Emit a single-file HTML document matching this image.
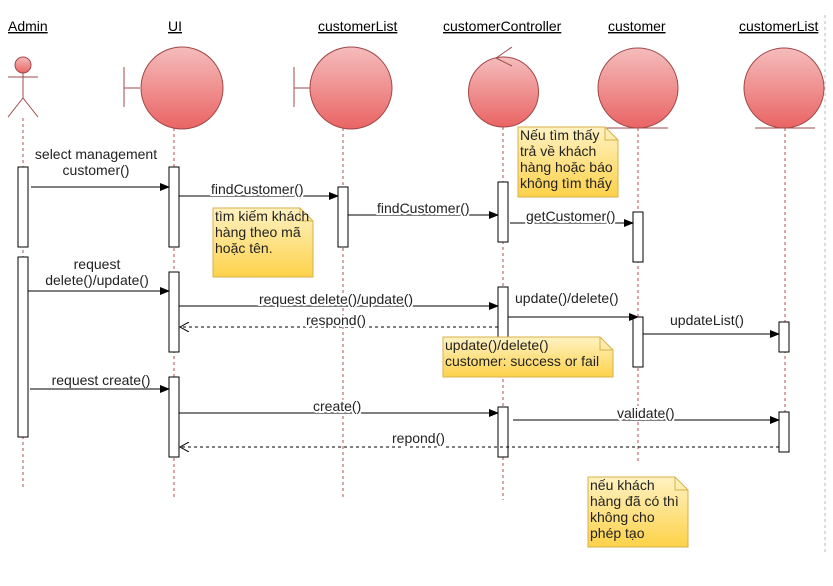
<!DOCTYPE html>
<html><head><meta charset="utf-8"><style>
html,body{margin:0;padding:0;background:#fff;}
svg{display:block;font-family:"Liberation Sans",Arial,sans-serif;font-size:14px;}
</style></head><body>
<svg width="833" height="586" viewBox="0 0 833 586" xmlns="http://www.w3.org/2000/svg">
<defs>
<linearGradient id="rg" x1="0" y1="0" x2="0" y2="1"><stop offset="0" stop-color="#f5bcbc"/><stop offset="1" stop-color="#ea6464"/></linearGradient>
<linearGradient id="yg" x1="0" y1="0" x2="0" y2="1"><stop offset="0" stop-color="#fff2c2"/><stop offset="1" stop-color="#fdd24a"/></linearGradient>
<marker id="a" markerWidth="10" markerHeight="8" refX="9" refY="4" orient="auto" markerUnits="userSpaceOnUse"><path d="M0,0 L10,4 L0,8 z" fill="#000"/></marker>
<marker id="o" markerWidth="10" markerHeight="10" refX="9" refY="5" orient="auto" markerUnits="userSpaceOnUse"><path d="M0,0 L9,5 L0,10" fill="none" stroke="#000"/></marker>
</defs>
<g fill="#000" text-decoration="underline">
<text x="8" y="31">Admin</text>
<text x="168" y="31">UI</text>
<text x="318" y="31">customerList</text>
<text x="443" y="31">customerController</text>
<text x="608" y="31">customer</text>
<text x="739" y="31">customerList</text>
</g>
<line x1="825" y1="15" x2="825" y2="555" stroke="#bbb" stroke-dasharray="3,3"/>
<g stroke="#b05050" stroke-dasharray="3,3">
<line x1="23" y1="118" x2="23" y2="487"/>
<line x1="174" y1="128" x2="174" y2="497"/>
<line x1="343" y1="128" x2="343" y2="497"/>
<line x1="503" y1="127" x2="503" y2="500"/>
<line x1="638" y1="128" x2="638" y2="462"/>
<line x1="785" y1="128" x2="785" y2="452"/>
</g>
<g stroke="#a04848" fill="url(#rg)">
<circle cx="23" cy="65" r="8"/>
<line x1="8" y1="77" x2="38" y2="77"/><line x1="23" y1="73" x2="23" y2="98"/>
<polyline points="8,117 23,98 38,117" fill="none"/>
<line x1="124" y1="67" x2="124" y2="107"/><line x1="124" y1="88" x2="140" y2="88"/>
<circle cx="182" cy="88" r="41"/>
<line x1="294" y1="67" x2="294" y2="107"/><line x1="294" y1="88" x2="310" y2="88"/>
<circle cx="351" cy="88" r="41"/>
<circle cx="503.5" cy="92" r="35"/>
<polyline points="512,47 496,58 512,66" fill="none"/>
<circle cx="638" cy="88" r="40"/>
<line x1="598" y1="128" x2="668" y2="128"/>
<circle cx="784" cy="88" r="40"/>
<line x1="755" y1="128" x2="815" y2="128"/>
</g>
<g fill="#fff" stroke="#000">
<rect x="18" y="167" width="10" height="80"/>
<rect x="18" y="257" width="10" height="180"/>
<rect x="169" y="167" width="10" height="80"/>
<rect x="169" y="272" width="10" height="80"/>
<rect x="169" y="377" width="10" height="80"/>
<rect x="338" y="187" width="10" height="60"/>
<rect x="498" y="182" width="10" height="60"/>
<rect x="498" y="287" width="10" height="70"/>
<rect x="498" y="407" width="10" height="50"/>
<rect x="633" y="212" width="10" height="50"/>
<rect x="633" y="317" width="10" height="50"/>
<rect x="779" y="322" width="10" height="30"/>
<rect x="779" y="412" width="10" height="40"/>
</g>
<g stroke="#000" fill="none">
<line x1="31" y1="187" x2="169" y2="187" marker-end="url(#a)"/>
<line x1="179" y1="196" x2="338" y2="196" marker-end="url(#a)"/>
<line x1="348" y1="215" x2="498" y2="215" marker-end="url(#a)"/>
<line x1="510" y1="223" x2="633" y2="223" marker-end="url(#a)"/>
<line x1="28" y1="291" x2="169" y2="291" marker-end="url(#a)"/>
<line x1="179" y1="306" x2="498" y2="306" marker-end="url(#a)"/>
<line x1="498" y1="327" x2="180" y2="327" stroke-dasharray="3,3" marker-end="url(#o)"/>
<line x1="508" y1="317" x2="638" y2="317" marker-end="url(#a)"/>
<line x1="643" y1="334" x2="779" y2="334" marker-end="url(#a)"/>
<line x1="30" y1="389" x2="169" y2="389" marker-end="url(#a)"/>
<line x1="179" y1="413" x2="498" y2="413" marker-end="url(#a)"/>
<line x1="513" y1="420" x2="779" y2="420" marker-end="url(#a)"/>
<line x1="779" y1="447" x2="180" y2="447" stroke-dasharray="3,3" marker-end="url(#o)"/>
</g>
<g fill="#222" text-anchor="middle">
<text x="96" y="159">select management</text>
<text x="96" y="175">customer()</text>
<text x="97" y="269">request</text>
<text x="97" y="285">delete()/update()</text>
<text x="101" y="385">request create()</text>
</g>
<g fill="#222" stroke="#fff" stroke-width="4" paint-order="stroke">
<text x="211" y="194">findCustomer()</text>
<text x="377" y="213">findCustomer()</text>
<text x="526" y="221">getCustomer()</text>
<text x="259" y="304">request delete()/update()</text>
<text x="306" y="325">respond()</text>
<text x="515" y="303">update()/delete()</text>
<text x="670" y="325">updateList()</text>
<text x="313" y="411">create()</text>
<text x="617" y="418">validate()</text>
<text x="392" y="443">repond()</text>
</g>
<g stroke="#d8b04a" fill="url(#yg)">
<path d="M518,127 H605 L618,140 V197 H518 Z"/><path d="M605,127 V140 H618" fill="none"/>
<path d="M213,208 H300 L313,221 V277 H213 Z"/><path d="M300,208 V221 H313" fill="none"/>
<path d="M443,337 H600 L613,350 V377 H443 Z"/><path d="M600,337 V350 H613" fill="none"/>
<path d="M588,477 H675 L688,490 V547 H588 Z"/><path d="M675,477 V490 H688" fill="none"/>
</g>
<g fill="#222">
<text x="520" y="140">Nếu tìm thấy</text>
<text x="520" y="156">trả về khách</text>
<text x="520" y="172">hàng hoặc báo</text>
<text x="520" y="188">không tìm thấy</text>
<text x="215" y="221">tìm kiếm khách</text>
<text x="215" y="237">hàng theo mã</text>
<text x="215" y="253">hoặc tên.</text>
<text x="445" y="350">update()/delete()</text>
<text x="445" y="366">customer: success or fail</text>
<text x="590" y="490">nếu khách</text>
<text x="590" y="506">hàng đã có thì</text>
<text x="590" y="522">không cho</text>
<text x="590" y="538">phép tạo</text>
</g>
</svg>
</body></html>
